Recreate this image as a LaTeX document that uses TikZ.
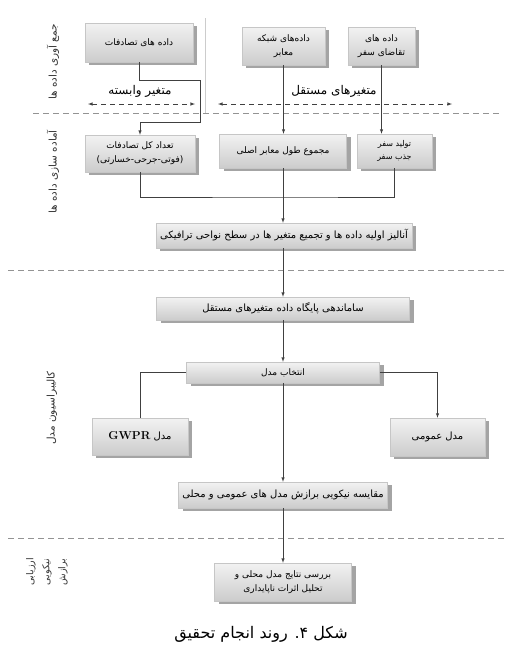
\documentclass[tikz,border=0pt]{standalone}
\usepackage{fontspec}
\usepackage{tikz}
\usetikzlibrary{arrows,shadows}
\newfontfamily\fafont[Script=Arabic]{DejaVu Sans}
\TeXXeTstate=1
\newcommand{\rtx}[1]{\beginR #1\endR}
\tikzset{
procbox/.style={draw=gray!45, line width=0.5pt, top color=gray!10, bottom color=gray!40,
  drop shadow={shadow xshift=4pt, shadow yshift=-3pt, opacity=0.55, fill=black!65},
  inner sep=2pt, align=center, font=\fafont\fontsize{9}{14}\selectfont},
bigtext/.style={font=\fafont\fontsize{10}{13}\selectfont},
flow/.style={draw=black!75, line width=0.5pt},
sep/.style={draw=gray!85, dash pattern=on 6pt off 4pt, line width=0.6pt},
varline/.style={draw=black!75, dash pattern=on 5pt off 4pt, line width=0.6pt},
varlabel/.style={font=\fafont\fontsize{12}{14}\selectfont},
phase/.style={rotate=90, align=center, text=black!80, font=\fafont\fontsize{10.5}{12}\selectfont},
}
\begin{document}
\begin{tikzpicture}[x=1pt,y=1pt,yscale=-1,xscale=1]
\useasboundingbox (0,0) rectangle (508,649);

%Phase separators
\draw[sep] (33,113) -- (500,113);
\draw[sep] (8,270) -- (505,270);
\draw[sep] (8,538) -- (505,538);
\draw[gray!40] (205,18) -- (205,113);

%Phase labels
\node[phase] (collect) at (53,62) {\rtx{جمع آوری داده ها}};
\node[phase] (prepare) at (53,172) {\rtx{آماده سازی داده ها}};
\node[phase] (calib) at (52,408) {\rtx{کالیبراسیون مدل}};
\node[phase, font=\fafont\fontsize{9.5}{16}\selectfont] (assess) at (47,572) {\rtx{ارزیابی}\\\rtx{نیکویی}\\\rtx{برازش}};

%Data sources
\node[procbox, minimum width=108, minimum height=39] (crash) at (139,42.5) {\rtx{داده های تصادفات}};
\node[procbox, minimum width=83, minimum height=38] (network) at (283.5,46) {\rtx{داده‌های شبکه}\\\rtx{معابر}};
\node[procbox, minimum width=67, minimum height=38] (demand) at (381.5,46) {\rtx{داده های}\\\rtx{تقاضای سفر}};

%Variable labels
\coordinate (depL) at (88,104);
\coordinate (depR) at (195,104);
\coordinate (indL) at (218,104);
\coordinate (indR) at (452,104);
\draw[varline, latex-latex] (depL) -- (depR);
\draw[varline, latex-latex] (indL) -- (indR);
\node[varlabel] (deplabel) at (140,91) {\rtx{متغیر وابسته}};
\node[varlabel] (indlabel) at (334,91) {\rtx{متغیرهای مستقل}};

%Prepared variables
\node[procbox, minimum width=110, minimum height=37] (crashsum) at (140,153.5) {\rtx{تعداد کل تصادفات}\\\rtx{(فوتی-جرحی-خسارتی)}};
\node[procbox, minimum width=127, minimum height=34] (roadlen) at (283,151) {\rtx{مجموع طول معابر اصلی}};
\node[procbox, minimum width=75, minimum height=34, font=\fafont\fontsize{8}{13}\selectfont] (trips) at (394.5,151) {\rtx{تولید سفر}\\\rtx{جذب سفر}};
\node[procbox, bigtext, minimum width=256, minimum height=25] (analysis) at (284,235.5) {\rtx{آنالیز اولیه داده ها و تجمیع متغیر ها در سطح نواحی ترافیکی}};

%Calibration
\node[procbox, bigtext, minimum width=253, minimum height=23] (database) at (283,308.5) {\rtx{ساماندهی پایگاه داده متغیرهای مستقل}};
\node[procbox, minimum width=193, minimum height=21] (select) at (283,372.5) {\rtx{انتخاب مدل}};
\node[procbox, bigtext, minimum width=96, minimum height=37] (gwpr) at (140,436.5) {\rtx{مدل \beginL{\rmfamily\bfseries\fontsize{11.5}{13}\selectfont GWPR}\endL}};
\node[procbox, bigtext, minimum width=95, minimum height=38] (global) at (437.5,437) {\rtx{مدل عمومی}};
\node[procbox, bigtext, minimum width=209, minimum height=26] (compare) at (283,495) {\rtx{مقایسه نیکویی برازش مدل های عمومی و محلی}};

%Assessment
\node[procbox, minimum width=137, minimum height=38] (results) at (283,582) {\rtx{بررسی نتایج مدل محلی و}\\\rtx{تحلیل اثرات ناپایداری}};

%Connectors
\coordinate (depA) at (200,80);
\coordinate (depB) at (200,122);
\coordinate (merge) at (283,197);
\draw[flow, -latex] (crash.south) |- (depA) -- (depB) -| (crashsum.north);
\draw[flow, -latex] (network.south) -- (network.south |- roadlen.north);
\draw[flow, -latex] (demand.south) -- (demand.south |- trips.north);
\draw[flow] (crashsum.south) |- (merge) -| (trips.south);
\draw[flow, -latex] (roadlen.south) -- (roadlen.south |- analysis.north);
\draw[flow, -latex] (analysis.south -| database.north) -- (database.north);
\draw[flow, -latex] (database) -- (select);
\draw[flow] (select.west) -| (gwpr.north);
\draw[flow, -latex] (select.east) -| (global.north);
\draw[flow, -latex] (select) -- (compare);
\draw[flow, -latex] (compare) -- (results);

%Caption
\node[font=\fafont\fontsize{16}{18}\selectfont] (caption) at (261,634) {\rtx{شکل ۴\kern0pt. روند انجام تحقیق}};
\end{tikzpicture}
\end{document}
